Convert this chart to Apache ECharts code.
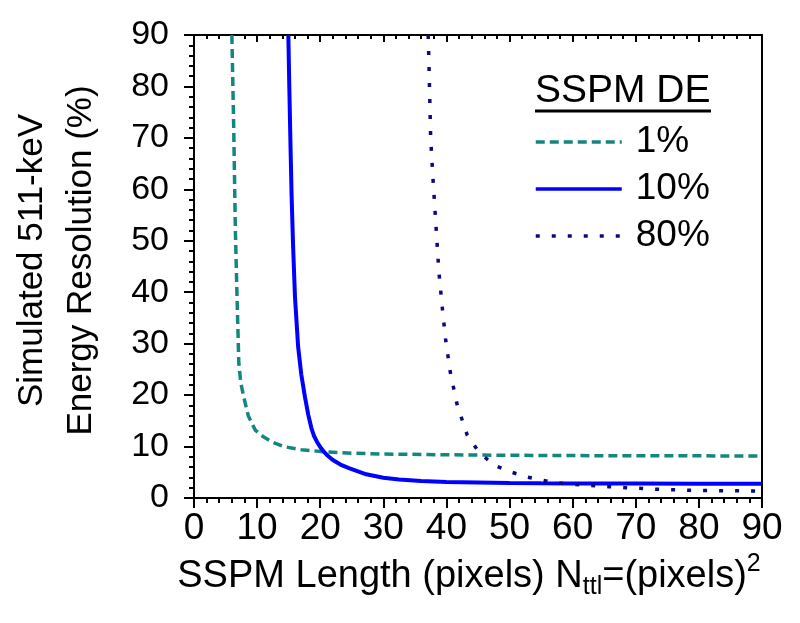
<!DOCTYPE html>
<html>
<head>
<meta charset="utf-8">
<script src="https://cdn.jsdelivr.net/npm/echarts@6/dist/echarts.min.js"></script>
<style>html,body{margin:0;padding:0;background:#fff;}#c{width:800px;height:623px;}</style>
</head>
<body>
<div id="c"></div>
<script>
// Data
const xTicks = [0, 10, 20, 30, 40, 50, 60, 70, 80, 90];
const seriesNames = ['1%', '10%', '80%'];
const de1X = [6.0, 6.3, 6.55, 6.8, 7.1, 7.4, 7.87, 8.6, 9.7, 11, 12.5, 14.2, 17, 20.5, 25, 30, 40, 50, 60, 70, 80, 90];
const de1Y = [90, 71.5, 52.3, 40, 26.2, 22.5, 19.7, 16, 13.2, 11.9, 10.8, 10.0, 9.4, 9.0, 8.7, 8.55, 8.4, 8.3, 8.25, 8.2, 8.2, 8.15];
const de10X = [14.95, 15.1, 15.3, 15.47, 15.7, 16.0, 16.5, 17.0, 17.57, 18.1, 18.6, 19.0, 19.5, 20.0, 20.5, 21.2, 22, 23.2, 24.65, 27.3, 30, 32.5, 36, 40, 45, 50, 55, 60, 70, 80, 90];
const de10Y = [90, 80, 68, 58.6, 49, 39.1, 29.4, 24, 19.7, 16.2, 13.6, 12.1, 10.9, 9.9, 9.1, 8.2, 7.4, 6.5, 5.77, 4.6, 3.95, 3.6, 3.3, 3.1, 3.0, 2.9, 2.85, 2.82, 2.8, 2.78, 2.75];
const de80X = [37.1, 37.2, 37.5, 37.8, 38.3, 38.8, 39.3, 39.85, 40.6, 41.7, 43.3, 45.1, 47.5, 50.1, 52.7, 57, 60, 65.6, 68.4, 73.4, 78.7, 84, 90];
const de80Y = [90, 86, 70, 63.4, 53.7, 44, 37.5, 31, 24.5, 18.1, 12.2, 9.0, 6.4, 5.1, 4.1, 3.0, 2.65, 2.2, 2.0, 1.7, 1.5, 1.42, 1.35];

const zip = (xs, ys) => xs.map((x, i) => [x, ys[i]]);
const FONT = 'Liberation Sans, Arial, sans-serif';
const colors = ['#13877f', '#0000ff', '#0a0a80'];

const chart = echarts.init(document.getElementById('c'), null, {renderer: 'canvas'});
chart.setOption({
  animation: false,
  backgroundColor: '#fff',
  grid: {left: 190, right: 38, top: 35, bottom: 125, containLabel: false},
  xAxis: [{
    type: 'value', min: 0, max: 90, interval: 10, position: 'bottom',
    axisLine: {show: true, onZero: false, lineStyle: {color: '#000', width: 2}},
    axisTick: {show: true, inside: false, length: 10, lineStyle: {color: '#000', width: 2}},
    minorTick: {show: true, splitNumber: 5, length: 5, lineStyle: {color: '#000', width: 2}},
    splitLine: {show: false},
    axisLabel: {color: '#000', fontSize: 37, fontFamily: FONT, margin: 12,
      formatter: v => String(v)},
    name: 'SSPM Length (pixels) N{sub|ttl}=(pixels){sup|2}',
    nameLocation: 'middle', nameGap: 52,
    nameTextStyle: {color: '#000', fontSize: 38, fontFamily: FONT, padding: [0, 18, 0, 0],
      rich: {
        sub: {fontSize: 25, fontFamily: FONT, color: '#000', padding: [22, 0, 0, 0]},
        sup: {fontSize: 25, fontFamily: FONT, color: '#000', padding: [0, 0, 24, 0]}
      }}
  }, {
    type: 'value', min: 0, max: 90, interval: 10, position: 'top',
    axisLine: {show: true, onZero: false, lineStyle: {color: '#000', width: 2}},
    axisTick: {show: true, inside: true, length: 7, lineStyle: {color: '#000', width: 2}},
    minorTick: {show: true, splitNumber: 5, length: 4, lineStyle: {color: '#000', width: 2}},
    splitLine: {show: false}, axisLabel: {show: false}
  }],
  yAxis: [{
    type: 'value', min: 0, max: 90, interval: 10, position: 'left',
    axisLine: {show: true, onZero: false, lineStyle: {color: '#000', width: 2}},
    axisTick: {show: true, inside: false, length: 10, lineStyle: {color: '#000', width: 2}},
    minorTick: {show: true, splitNumber: 5, length: 5, lineStyle: {color: '#000', width: 2}},
    splitLine: {show: false},
    axisLabel: {color: '#000', fontSize: 34, fontFamily: FONT, margin: 25},
    name: 'Simulated 511-keV\nEnergy Resolution (%)',
    nameLocation: 'middle', nameGap: 88, nameRotate: 90,
    nameTextStyle: {color: '#000', fontSize: 35, fontFamily: FONT, lineHeight: 49, padding: [0, 0, 0, 12]}
  }, {
    type: 'value', min: 0, max: 90, interval: 10, position: 'right',
    axisLine: {show: true, onZero: false, lineStyle: {color: '#000', width: 2}},
    axisTick: {show: false}, splitLine: {show: false}, axisLabel: {show: false}
  }],
  legend: {
    orient: 'vertical', left: 534, top: 122, padding: 0, itemWidth: 86, itemHeight: 14, itemGap: 7,
    data: seriesNames,
    itemStyle: {opacity: 0},
    lineStyle: {width: 3.5},
    textStyle: {color: '#000', fontSize: 37, fontFamily: FONT, lineHeight: 40, padding: [0, 0, 0, 9]}
  },
  graphic: [
    {type: 'text', left: 535, top: 72, style: {text: 'SSPM DE', fill: '#000', font: '39px ' + FONT}},
    {type: 'line', shape: {x1: 535, y1: 111, x2: 711, y2: 111}, style: {stroke: '#000', lineWidth: 3}}
  ],
  series: [
    {name: seriesNames[0], type: 'line', data: zip(de1X, de1Y), showSymbol: false, symbol: 'none',
      smooth: false, clip: true,
      lineStyle: {color: colors[0], width: 3.5, type: [9, 5]}, itemStyle: {color: colors[0]}},
    {name: seriesNames[1], type: 'line', data: zip(de10X, de10Y), showSymbol: false, symbol: 'none',
      smooth: false, clip: true,
      lineStyle: {color: colors[1], width: 4, type: 'solid'}, itemStyle: {color: colors[1]}},
    {name: seriesNames[2], type: 'line', data: zip(de80X, de80Y), showSymbol: false, symbol: 'none',
      smooth: false, clip: true,
      lineStyle: {color: colors[2], width: 3.5, type: [4, 12]}, itemStyle: {color: colors[2]}}
  ]
});
</script>
</body>
</html>
